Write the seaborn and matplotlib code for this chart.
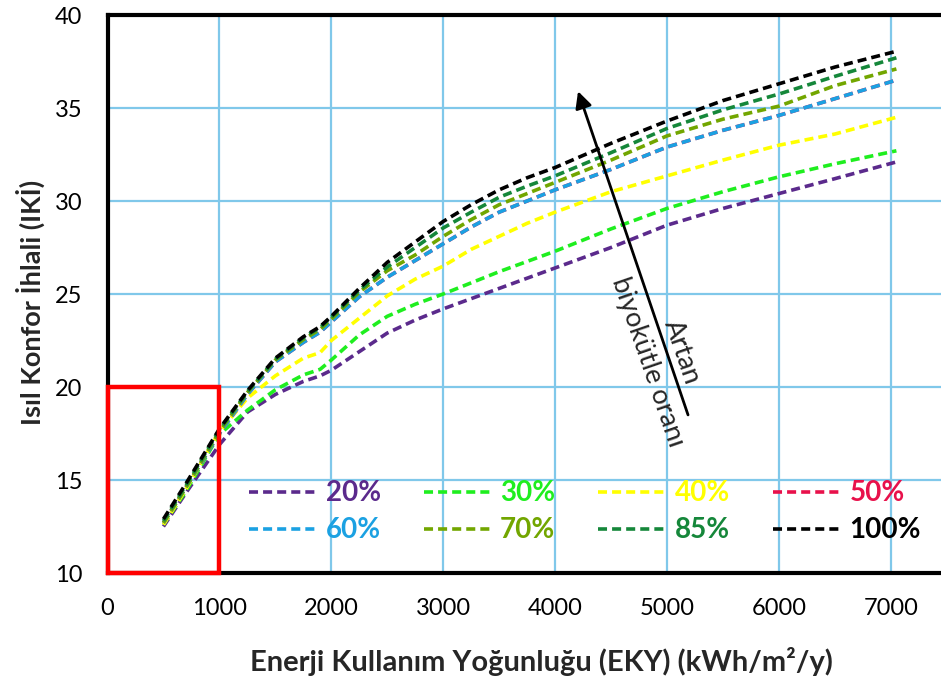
import matplotlib
matplotlib.use("Agg")
import matplotlib.pyplot as plt
import seaborn as sns
import pandas as pd
from matplotlib.patches import Rectangle

# ---- data ----
eky = [500, 700, 1000, 1250, 1500, 1750, 1900, 2000, 2250, 2500, 2750, 3000,
       3250, 3500, 3750, 4000, 4500, 5000, 5500, 6000, 6500, 7050]
r20 = [12.5, 14.3, 16.9, 18.65, 19.6, 20.3, 20.6, 20.9, 21.9, 22.9, 23.6, 24.2,
       24.75, 25.3, 25.85, 26.4, 27.5, 28.7, 29.6, 30.4, 31.2, 32.1]
r30 = [12.6, 14.4, 17.45, 18.75, 19.85, 20.65, 20.95, 21.45, 22.8, 23.8, 24.45, 25.0,
       25.6, 26.2, 26.75, 27.3, 28.5, 29.6, 30.5, 31.3, 32.0, 32.7]
r40 = [12.6, 14.5, 17.6, 19.4, 20.6, 21.55, 21.85, 22.5, 23.7, 24.9, 25.8, 26.5,
       27.4, 28.1, 28.8, 29.4, 30.5, 31.35, 32.2, 33.0, 33.6, 34.5]
r50 = [12.7, 14.6, 17.5, 19.6, 21.35, 22.4, 22.95, 23.5, 24.85, 25.9, 26.8, 27.7,
       28.6, 29.4, 30.0, 30.6, 31.7, 32.9, 33.8, 34.6, 35.5, 36.5]
r60 = [12.7, 14.6, 17.5, 19.6, 21.35, 22.4, 22.95, 23.5, 24.85, 25.9, 26.8, 27.7,
       28.6, 29.4, 30.0, 30.6, 31.7, 32.9, 33.8, 34.6, 35.5, 36.5]
r70 = [12.7, 14.6, 17.6, 19.7, 21.45, 22.55, 23.1, 23.65, 25.1, 26.25, 27.1, 28.1,
       29.0, 29.8, 30.4, 31.0, 32.2, 33.5, 34.4, 35.1, 36.2, 37.1]
r85 = [12.8, 14.7, 17.7, 19.75, 21.5, 22.65, 23.2, 23.75, 25.2, 26.45, 27.5, 28.55,
       29.4, 30.2, 30.8, 31.35, 32.6, 33.9, 34.9, 35.75, 36.7, 37.7]
r100 = [12.9, 14.8, 17.75, 19.8, 21.55, 22.7, 23.25, 23.8, 25.3, 26.7, 27.8, 28.9,
        29.8, 30.6, 31.25, 31.8, 33.1, 34.3, 35.4, 36.3, 37.2, 38.05]

labels = ["20%", "30%", "40%", "50%", "60%", "70%", "85%", "100%"]
series = [r20, r30, r40, r50, r60, r70, r85, r100]
colors = ["#5b2a8c", "#1fee1f", "#ffff00", "#e8114b", "#1ba1e2",
          "#72a600", "#15873a", "#000000"]

x_ticks = [0, 1000, 2000, 3000, 4000, 5000, 6000, 7000]
y_ticks = [10, 15, 20, 25, 30, 35, 40]

xlabel = "Enerji Kullanım Yoğunluğu (EKY) (kWh/m²/y)"
ylabel = "Isıl Konfor İhlali (IKİ)"
note_top = "Artan"
note_bottom = "biyokütle oranı"

# ---- style ----
sns.set_style("white")
plt.rcParams["font.family"] = ["Lato", "DejaVu Sans"]

fig = plt.figure(figsize=(9.41, 6.83), dpi=100)
ax = fig.add_axes([107.5 / 941, 1 - 573 / 683, (941 - 107.5) / 941, (573 - 15) / 683])

lines = []
for lab, vals, col in zip(labels, series, colors):
    df = pd.DataFrame({"EKY": eky, "IKI": vals})
    sns.lineplot(data=df, x="EKY", y="IKI", ax=ax, color=col, lw=2.6,
                 linestyle=(0, (2.5, 1.4)), label=lab, zorder=3)
    lines.append(ax.get_lines()[-1])

ax.set_xlim(0, (941 - 107.5) / 0.1119)
ax.set_ylim(10, 40)
ax.set_xticks(x_ticks)
ax.set_yticks(y_ticks)
ax.set_xticklabels([str(v) for v in x_ticks])
ax.set_yticklabels([str(v) for v in y_ticks])
ax.tick_params(axis="both", length=0, labelsize=17, colors="black")
ax.tick_params(axis="x", pad=18)
ax.tick_params(axis="y", pad=18)
ax.set_xlabel("")
ax.set_ylabel("")

ax.grid(True, color="#80c8ea", lw=1.6)
ax.set_axisbelow(True)
for s in ["top", "left", "bottom"]:
    ax.spines[s].set_color("black")
    ax.spines[s].set_linewidth(3)
ax.spines["right"].set_visible(False)

# red box
ax.add_patch(Rectangle((0, 10), 1000, 10, fill=False, edgecolor="#ff0000",
                       lw=3.2, zorder=6, clip_on=False))

# arrow + text
ax.annotate("", xy=(4205, 35.9), xytext=(5188, 18.5),
            arrowprops=dict(arrowstyle="-|>", color="black", lw=2,
                            mutation_scale=25, shrinkA=0, shrinkB=0), zorder=7)
ax.text(5134, 21.9, note_top, rotation=-71, ha="center", va="center",
        rotation_mode="anchor", fontsize=19.5, zorder=7)
ax.text(4830, 21.35, note_bottom, rotation=-71, ha="center", va="center",
        rotation_mode="anchor", fontsize=19.5, zorder=7)

# legend (row-major order)
order = [0, 4, 1, 5, 2, 6, 3, 7]
leg = ax.legend([lines[i] for i in order], [labels[i] for i in order],
                ncol=4, loc="upper left", bbox_to_anchor=(0.17, 0.166),
                frameon=False, handlelength=2.5, handletextpad=0.25,
                columnspacing=1.55, labelspacing=0.4, borderpad=0,
                borderaxespad=0, labelcolor="linecolor",
                prop={"weight": "bold", "size": 20})

fig.text(541 / 941, 1 - 662 / 683, xlabel, ha="center", va="center",
         fontsize=21, fontweight="bold")
fig.text(30 / 941, 1 - 302 / 683, ylabel, ha="center", va="center",
         rotation=90, fontsize=19.5, fontweight="bold")

fig.savefig("out.png", dpi=100)
